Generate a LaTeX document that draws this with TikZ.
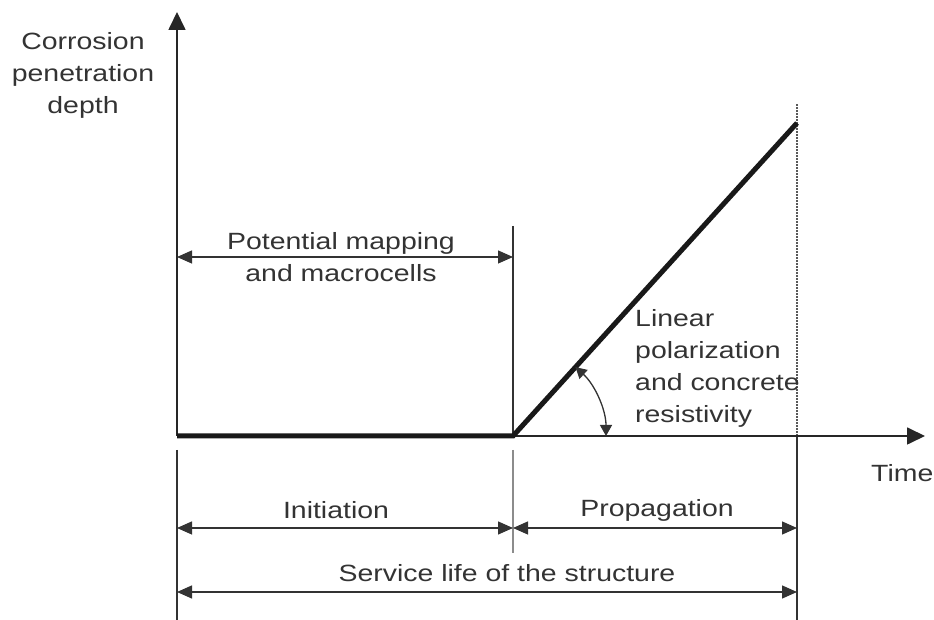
\documentclass[tikz,border=0pt]{standalone}
\usepackage{fontspec}
\setmainfont{Liberation Sans}[FakeStretch=1.21]
\usetikzlibrary{arrows.meta}
\tikzset{
  axisline/.style={line width=1.7pt, draw=black!85, -{Triangle[length=18pt,width=17pt]}},
  dimline/.style={line width=1.3pt, draw=black!80, {Triangle[length=15pt,width=13pt]}-{Triangle[length=15pt,width=13pt]}},
  arcline/.style={line width=1.3pt, draw=black!80, {Triangle[length=11pt,width=12pt]}-{Triangle[length=11pt,width=12pt]}},
  guide/.style={line width=1.3pt, draw=black!80},
  depthline/.style={line width=5pt, draw=black!90},
  lbl/.style={text=black!80, inner sep=0pt, font=\fontsize{23.5}{32}\selectfont},
}
\begin{document}
\begin{tikzpicture}[x=1pt,y=1pt]
  %tikz  corrosion depth against time
  \useasboundingbox (0,0) rectangle (934,620);
  \coordinate (O) at (177,184);
  \coordinate (ti) at (513,184);
  \coordinate (tl) at (797,497);
  \coordinate (tend) at (797,184);
  \coordinate (dtop) at (797,517);
  \coordinate (ytop) at (177,608);
  \coordinate (xend) at (925,184);
  % guide lines
  \draw[guide] (177,170) -- (177,0);
  \draw[guide] (tend) -- (797,0);
  \draw[guide, draw=black!45] (513,170) -- (513,67);
  \draw[guide] (513,394) -- (ti);
  \draw[line width=1.3pt, draw=black!65, dash pattern=on 1.5pt off 1.5pt] (tend) -- (dtop);
  % axes
  \draw[axisline] (O) -- (ytop);
  \draw[axisline] (O) -- (xend);
  \draw[depthline] (O) -- (ti) -- (tl);
  \draw[arcline] ([shift={(0:93)}]ti) arc[start angle=0, end angle=47.8, radius=93];
  % dimension arrows
  \coordinate (p1) at (177,363);
  \coordinate (p2) at (513,363);
  \coordinate (a1) at (177,92);
  \coordinate (a2) at (513,92);
  \coordinate (a3) at (797,92);
  \coordinate (s1) at (177,28);
  \coordinate (s2) at (797,28);
  \draw[dimline] (p1) -- (p2);
  \draw[dimline] (a1) -- (a2);
  \draw[dimline] (a2) -- (a3);
  \draw[dimline] (s1) -- (s2);
  % labels
  \node[lbl, align=center] (ylabel) at (83,545) {Corrosion\\penetration\\depth};
  \node[lbl, align=center] (potential) at (341,362.5) {Potential mapping\\and macrocells};
  \node[lbl, align=left, anchor=west] (linear) at (635,251.5) {Linear\\polarization\\and concrete\\resistivity};
  \node[lbl, anchor=west] (time) at (871,147) {Time};
  \node[lbl] (init) at (336,110) {Initiation};
  \node[lbl] (prop) at (657,110) {Propagation};
  \node[lbl] (service) at (507,47) {Service life of the structure};
\end{tikzpicture}
\end{document}
